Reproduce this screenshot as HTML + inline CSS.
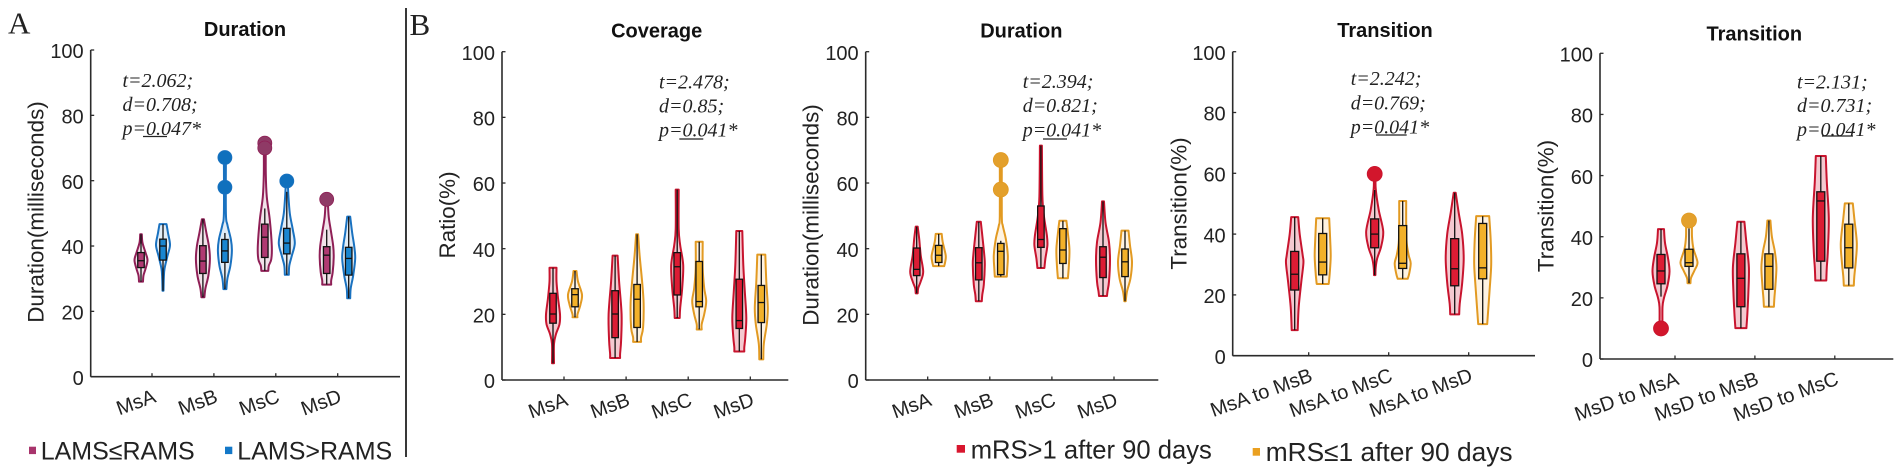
<!DOCTYPE html>
<html lang="en">
<head>
<meta charset="utf-8">
<title>Microstate violin plots</title>
<style>
html,body{margin:0;padding:0;background:#fff;width:1902px;height:474px;overflow:hidden}
svg{display:block;font-family:"Liberation Sans",sans-serif;fill:#1a1a1a;filter:blur(0.35px)}
.title{font-size:20px;font-weight:bold;text-anchor:middle;fill:#111}
.ytitle{font-size:22.4px;text-anchor:middle;fill:#222}
.stat{font-family:"Liberation Serif",serif;font-style:italic;font-size:20px;fill:#222}
.letter{font-family:"Liberation Serif",serif;font-size:31px;fill:#222}
.legend{font-size:25px;fill:#222}
</style>
</head>
<body>
<svg id="figure" xmlns="http://www.w3.org/2000/svg" width="1902" height="474" viewBox="0 0 1902 474">
  <rect x="0" y="0" width="1902" height="474" fill="#fff"/>
  <text class="letter" x="8" y="33.5">A</text>
  <text class="letter" x="409.5" y="35">B</text>
  <line x1="406" y1="8" x2="406" y2="457" stroke="#222" stroke-width="1.8"/>

  <text class="title" x="245" y="36">Duration</text>
  <text class="title" x="656.7" y="37.7">Coverage</text>
  <text class="title" x="1021.3" y="37.7">Duration</text>
  <text class="title" x="1385" y="37">Transition</text>
  <text class="title" x="1754.3" y="40.7">Transition</text>

  <text class="ytitle" transform="translate(43.3 212) rotate(-90)">Duration(milliseconds)</text>
  <text class="ytitle" transform="translate(455 215) rotate(-90)">Ratio(%)</text>
  <text class="ytitle" transform="translate(818.3 215) rotate(-90)">Duration(milliseconds)</text>
  <text class="ytitle" transform="translate(1186.7 203.5) rotate(-90)">Transition(%)</text>
  <text class="ytitle" transform="translate(1553.3 206) rotate(-90)">Transition(%)</text>

  <g>
    <text class="stat" x="122.5" y="87">t=2.062;</text>
    <text class="stat" x="122.5" y="111">d=0.708;</text>
    <text class="stat" x="122.5" y="135">p=0.047*</text>
    <line x1="143" x2="167" y1="136.5" y2="136.5" stroke="#222" stroke-width="1.2"/>
  </g>
  <g>
    <text class="stat" x="659" y="88.3">t=2.478;</text>
    <text class="stat" x="659" y="112.7">d=0.85;</text>
    <text class="stat" x="659" y="136.7">p=0.041*</text>
    <line x1="679.3" x2="703.3" y1="139" y2="139" stroke="#222" stroke-width="1.2"/>
  </g>
  <g>
    <text class="stat" x="1022.7" y="88">t=2.394;</text>
    <text class="stat" x="1022.7" y="112">d=0.821;</text>
    <text class="stat" x="1022.7" y="136.5">p=0.041*</text>
    <line x1="1043" x2="1067" y1="139" y2="139" stroke="#222" stroke-width="1.2"/>
  </g>
  <g>
    <text class="stat" x="1350.7" y="85">t=2.242;</text>
    <text class="stat" x="1350.7" y="109.3">d=0.769;</text>
    <text class="stat" x="1350.7" y="133.3">p=0.041*</text>
    <line x1="1376" x2="1406.7" y1="135" y2="135" stroke="#222" stroke-width="1.2"/>
  </g>
  <g>
    <text class="stat" x="1797" y="88.3">t=2.131;</text>
    <text class="stat" x="1797" y="112">d=0.731;</text>
    <text class="stat" x="1797" y="136">p=0.041*</text>
    <line x1="1822" x2="1853" y1="136" y2="136" stroke="#222" stroke-width="1.2"/>
  </g>

  <g>
    <rect x="29" y="446.7" width="7" height="7.4" fill="#a8346c"/>
    <text class="legend" x="40.7" y="459.3">LAMS≤RAMS</text>
  </g>
  <g>
    <rect x="225" y="446.7" width="7.3" height="7.4" fill="#1378c8"/>
    <text class="legend" x="237.3" y="459.3">LAMS&gt;RAMS</text>
  </g>
  <g>
    <rect x="956.7" y="445" width="8.3" height="7.7" fill="#d8162e"/>
    <text class="legend" style="font-size:25.6px" x="970.7" y="458.3">mRS&gt;1 after 90 days</text>
  </g>
  <g>
    <rect x="1252.7" y="448" width="7.3" height="7.7" fill="#eaa020"/>
    <text class="legend" style="font-size:26.3px" x="1265.7" y="461">mRS≤1 after 90 days</text>
  </g>
</svg>

<script>
// Shared axis content
const yTickValues = [0, 20, 40, 60, 80, 100];
const stateCategories = ['MsA', 'MsB', 'MsC', 'MsD'];
const msaTransitionCategories = ['MsA to MsB', 'MsA to MsC', 'MsA to MsD'];
const msdTransitionCategories = ['MsD to MsA', 'MsD to MsB', 'MsD to MsC'];

// Each violin: [value, density] pairs from top to bottom. Order: cat1-group1, cat1-group2, cat2-group1 ...
// Panel A: Duration, LAMS<=RAMS vs LAMS>RAMS
const aDensity = [
  [[43.6,.8],[41,1.5],[38,4.5],[35.7,6.5],[33,4.5],[31,2.5],[29.1,2]],
  [[46.7,3.5],[44,5],[40.3,7],[37,4.5],[33,1.5],[30,.8],[26.3,.5]],
  [[48.2,1],[44,3.5],[40,6],[36,7],[31,5.5],[27,2.5],[24.3,1.5]],
  [[67.1,1],[50,1],[46.5,2.5],[42,6],[38.6,7],[34,5.5],[30,2.5],[26.8,1.5]],
  [[71.5,1],[62,1],[55,2],[48,5],[40,7],[36,6.5],[34,4],[32.4,3.5]],
  [[59.9,1],[56,1.5],[50,3],[45,6],[40.8,8],[37,5],[34,2.5],[31.2,2]],
  [[54.3,1],[49,2],[45,4],[40,6.5],[36.5,7],[32,6],[29.5,4.5],[28.2,4.5]],
  [[49,1.5],[44,3.5],[40,5.5],[36.2,6.5],[31,4.5],[27,2],[24,1.5]]
];
const aQ1 = [33.4,35.7,31.6,35,36.5,37.6,31.6,31.1];
const aMedian = [35.5,40,35.4,38.5,42.7,40.9,37.2,36.2];
const aQ3 = [38,42.1,40.1,42,46.7,45.4,39.8,39.6];
const aWhiskerHigh = [43.6,46.7,48.2,44,51.5,56.6,45,49];
const aWhiskerLow = [29.1,26.3,24.3,26.8,32.4,31.2,28.2,24];
const aOutliers = [[],[],[],[67.1,58],[71.5,70],[59.9],[54.3],[]];

// Panel B: Coverage
const coverageDensity = [
  [[34.2,3.5],[30,3.5],[25,5],[20,7],[17,6.5],[14,3],[11,1],[5.1,1]],
  [[33.2,1.5],[30,3],[26,7],[23,5.5],[20,2.5],[19.1,2.5]],
  [[37.9,2.5],[30,4],[20,6.5],[12,6],[8,5],[6.7,5]],
  [[44.4,1],[38,2.5],[30,5],[23.4,6.5],[16,6],[13,4],[11.6,4]],
  [[58,1.5],[46,1.5],[41,3],[35,6],[28,5],[22,3],[18.9,2.5]],
  [[42.1,3.5],[34,3.5],[28,5],[24,7],[20,5],[17,2.5],[15.4,2.5]],
  [[45.4,3],[35,4],[27,5.5],[19,7],[13,6],[10,5],[8.7,5]],
  [[38.2,4],[30,5],[22,6.5],[17,5.5],[11,2.5],[6.3,2]]
];
const coverageQ1 = [17.3,22.3,12.9,16,25.9,22.3,15.7,17.5];
const coverageMedian = [20.1,26,20.1,24.6,34.5,23.9,18.1,23.6];
const coverageQ3 = [26.4,27.8,27.2,29.1,38.8,36.1,30.7,28.8];
const coverageWhiskerHigh = [34.2,33.2,37.9,44.4,58,42.1,45.4,38.2];
const coverageWhiskerLow = [5.1,19.1,6.7,11.6,18.9,15.4,8.7,6.3];
const coverageOutliers = [[],[],[],[],[],[],[],[]];

// Panel B: Duration
const durationDensity = [
  [[46.7,1],[43,2.5],[38,4],[33,6.5],[30,4],[28,1.5],[26.4,1]],
  [[44.5,3],[42,4],[38,7],[36,6.5],[34.7,5.5]],
  [[48.2,2],[44,3.5],[38,5.5],[35,6],[29,5],[26,3.5],[24,3]],
  [[67,1],[50,1],[47,2],[43,5],[38,7],[34,6.5],[31.5,6]],
  [[71.4,1],[56,1.5],[50,3],[44,6],[41,6.5],[37,4.5],[34.1,3.5]],
  [[48.5,3.5],[46,4.5],[40,6.5],[35,6],[31,5]],
  [[54.4,1],[48,2.5],[42,6],[36.5,7],[30,6],[27,4.5],[25.6,4]],
  [[45.5,3.5],[41,5],[36,7],[31,5.5],[27,2],[24,.7]]
];
const durationQ1 = [31.8,35.8,30.5,32.1,40.4,35.5,31.2,31.5];
const durationMedian = [33.7,38,35.7,39.2,42.8,39.6,37.4,36];
const durationQ3 = [40.2,41,40.3,41.6,53,46.1,40.6,39.9];
const durationWhiskerHigh = [46.7,44.5,48.2,42.4,71.4,48.5,54.4,45.5];
const durationWhiskerLow = [26.4,34.7,24,31.5,34.1,31,25.6,24];
const durationOutliers = [[],[],[],[67,58],[],[],[],[]];

// Panel B: Transition from MsA
const msaDensity = [
  [[45.6,3.5],[40,5],[33,8],[30.4,8.7],[24,6.5],[16,4],[8.4,3]],
  [[45.2,6.5],[38,7.5],[32.6,8],[27,7],[23.6,6]],
  [[59.8,1],[55,1],[48,4],[41,8.5],[36,6.5],[32,2.5],[29,1],[26.5,.7]],
  [[50.9,3.5],[42,3.5],[37,4],[33,6],[30.4,8],[27,6.5],[25.3,5]],
  [[53.6,1],[47,4],[40,7.5],[32,9],[24,7.5],[17,5],[13.6,4.5]],
  [[45.9,6.5],[38,8],[30,8.5],[22,7],[15,5.5],[10.4,4.5]]
];
const msaQ1 = [21.6,26.6,35.5,28.7,23,25.3];
const msaMedian = [26.8,30.8,40,30.4,28.6,28.9];
const msaQ3 = [34.3,40.2,45,42.8,38.5,43.5];
const msaWhiskerHigh = [45.6,45.2,54.5,50.9,53.6,45.9];
const msaWhiskerLow = [8.4,23.6,26.5,25.3,13.6,10.4];
const msaOutliers = [[],[],[59.8],[],[],[]];

// Panel B: Transition from MsD
const msdDensity = [
  [[42.5,3],[38,4],[33,7],[28.6,8.5],[24,6.5],[20,3],[17,1.5],[10,1.5]],
  [[45.3,3],[40,3],[36,4.5],[31.6,8.5],[29,5.5],[26.5,2],[24.8,1.5]],
  [[44.9,3.5],[38,5.5],[30,8],[22,7.5],[15,6.5],[10.1,5.5]],
  [[45.3,1.5],[40,3],[35,6],[30,7.5],[24,6.5],[20,5.5],[17.1,5]],
  [[66.4,5],[58,6],[46,8],[35,7],[30,6],[25.7,5.5]],
  [[50.9,4],[46,5.5],[38,8],[32,7],[27,5.5],[24,5]]
];
const msdQ1 = [24.6,30.3,17.1,22.8,32,29.8];
const msdMedian = [28.8,31.5,26.4,30.3,51.7,36.4];
const msdQ3 = [34.2,35.9,34.4,34.4,54.7,44.1];
const msdWhiskerHigh = [42.5,42.7,44.9,45.3,66.4,50.9];
const msdWhiskerLow = [20.4,24.8,10.1,17.1,25.7,24];
const msdOutliers = [[10],[45.3],[],[],[],[]];

const SVG_NS = 'http://www.w3.org/2000/svg';
const figure = document.getElementById('figure');

function make(parent, tag, attrs) {
  const node = document.createElementNS(SVG_NS, tag);
  for (const key in attrs) node.setAttribute(key, attrs[key]);
  parent.appendChild(node);
  return node;
}

function smoothSide(points) {
  // Catmull-Rom segments through points, continuing an open path.
  let d = '';
  for (let i = 0; i < points.length - 1; i++) {
    const p0 = points[Math.max(i - 1, 0)];
    const p1 = points[i];
    const p2 = points[i + 1];
    const p3 = points[Math.min(i + 2, points.length - 1)];
    const c1x = p1[0] + (p2[0] - p0[0]) / 6;
    const c1y = p1[1] + (p2[1] - p0[1]) / 6;
    const c2x = p2[0] - (p3[0] - p1[0]) / 6;
    const c2y = p2[1] - (p3[1] - p1[1]) / 6;
    d += ' C' + c1x.toFixed(2) + ' ' + c1y.toFixed(2) + ' ' + c2x.toFixed(2) + ' ' + c2y.toFixed(2) + ' ' + p2[0].toFixed(2) + ' ' + p2[1].toFixed(2);
  }
  return d;
}

function drawPanel(cfg) {
  const yScale = v => cfg.bottom - (v / 100) * (cfg.bottom - cfg.top);
  const xScale = i => cfg.firstTick + i * cfg.step;

  const panel = make(figure, 'g', {});
  
  

  const axisColor = '#2b2b2b';
  const yAxis = make(panel, 'line', {x1: cfg.left, x2: cfg.left, y1: cfg.top, y2: cfg.bottom, stroke: axisColor, 'stroke-width': 1.6});
  
  
  const xAxis = make(panel, 'line', {x1: cfg.left, x2: cfg.right, y1: cfg.bottom, y2: cfg.bottom, stroke: axisColor, 'stroke-width': 1.6});
  
  

  yTickValues.forEach(v => {
    const y = yScale(v);
    const tick = make(panel, 'line', {x1: cfg.left, x2: cfg.left + 3.5, y1: y, y2: y, stroke: axisColor, 'stroke-width': 1.3});
    
    
    const label = make(panel, 'text', {x: cfg.left - 7, y: y + 8.2, 'text-anchor': 'end', 'font-size': 20, fill: '#222'});
    label.textContent = String(v);
    
    
  });

  cfg.categories.forEach((name, i) => {
    const x = xScale(i);
    const tick = make(panel, 'line', {x1: x, x2: x, y1: cfg.bottom, y2: cfg.bottom - 3.5, stroke: axisColor, 'stroke-width': 1.3});
    
    
    const ax = x + 5;
    const ay = cfg.bottom + 25;
    const label = make(panel, 'text', {x: ax, y: ay, 'text-anchor': 'end', 'font-size': 20, fill: '#222', transform: 'rotate(-20 ' + ax + ' ' + ay + ')'});
    label.textContent = name;
    
    
  });

  cfg.density.forEach((profile, k) => {
    const category = Math.floor(k / 2);
    const group = k % 2;
    const style = cfg.styles[group];
    const cx = xScale(category) + (group === 0 ? -cfg.offset : cfg.offset);
    const tag = cfg.id + '-' + cfg.categories[category].replace(/ /g, '-') + '-' + group;

    const left = profile.map(p => [cx - p[1], yScale(p[0])]);
    const right = profile.map(p => [cx + p[1], yScale(p[0])]).reverse();
    const d = 'M' + left[0][0].toFixed(2) + ' ' + left[0][1].toFixed(2) + smoothSide(left) +
      ' L' + right[0][0].toFixed(2) + ' ' + right[0][1].toFixed(2) + smoothSide(right) + ' Z';
    const violin = make(panel, 'path', {d: d, fill: style.fill, stroke: style.line, 'stroke-width': 2, 'stroke-linejoin': 'round'});
    
    

    const whisker = make(panel, 'line', {x1: cx, x2: cx, y1: yScale(cfg.whiskerHigh[k]), y2: yScale(cfg.whiskerLow[k]), stroke: '#111', 'stroke-width': 1.3});
    
    

    const box = make(panel, 'rect', {x: cx - cfg.boxWidth / 2, y: yScale(cfg.q3[k]), width: cfg.boxWidth, height: yScale(cfg.q1[k]) - yScale(cfg.q3[k]), fill: style.box, stroke: '#111', 'stroke-width': 1.3});
    
    

    const median = make(panel, 'line', {x1: cx - cfg.boxWidth / 2, x2: cx + cfg.boxWidth / 2, y1: yScale(cfg.median[k]), y2: yScale(cfg.median[k]), stroke: '#111', 'stroke-width': 1.3});
    
    

    cfg.outliers[k].forEach((v, n) => {
      const dot = make(panel, 'circle', {cx: cx, cy: yScale(v), r: cfg.outlierRadius, fill: style.dot, stroke: style.line, 'stroke-width': 0.8});
      
      
    });
  });
}

const lamsStyles = [
  {line: '#8f1f56', fill: 'rgba(143,31,86,.13)', box: '#b03a72', dot: '#8f3a66'},
  {line: '#1a72c0', fill: 'rgba(26,114,192,.13)', box: '#1a86d0', dot: '#0f70bd'}
];
const mrsStyles = [
  {line: '#c8142e', fill: 'rgba(210,30,60,.24)', box: '#dc1c34', dot: '#d2162c'},
  {line: '#e29a22', fill: 'rgba(245,175,60,.15)', box: '#f2b12a', dot: '#e3a02c'}
];

drawPanel({id: 'a-duration', categories: stateCategories, density: aDensity, q1: aQ1, median: aMedian, q3: aQ3, whiskerHigh: aWhiskerHigh, whiskerLow: aWhiskerLow, outliers: aOutliers, styles: lamsStyles, left: 90.7, right: 400, firstTick: 152, step: 61.9, top: 50, bottom: 376.7, offset: 11, boxWidth: 6.5, outlierRadius: 7});
drawPanel({id: 'b-coverage', categories: stateCategories, density: coverageDensity, q1: coverageQ1, median: coverageMedian, q3: coverageQ3, whiskerHigh: coverageWhiskerHigh, whiskerLow: coverageWhiskerLow, outliers: coverageOutliers, styles: mrsStyles, left: 502, right: 788.3, firstTick: 564, step: 62.1, top: 51.7, bottom: 380, offset: 11, boxWidth: 6.5, outlierRadius: 7.5});
drawPanel({id: 'b-duration', categories: stateCategories, density: durationDensity, q1: durationQ1, median: durationMedian, q3: durationQ3, whiskerHigh: durationWhiskerHigh, whiskerLow: durationWhiskerLow, outliers: durationOutliers, styles: mrsStyles, left: 865.7, right: 1158.3, firstTick: 927.7, step: 62.1, top: 51.7, bottom: 380, offset: 11, boxWidth: 6.5, outlierRadius: 7.5});
drawPanel({id: 'b-transition-msa', categories: msaTransitionCategories, density: msaDensity, q1: msaQ1, median: msaMedian, q3: msaQ3, whiskerHigh: msaWhiskerHigh, whiskerLow: msaWhiskerLow, outliers: msaOutliers, styles: mrsStyles, left: 1232.7, right: 1535, firstTick: 1308.7, step: 80, top: 51.7, bottom: 355.7, offset: 14, boxWidth: 8, outlierRadius: 7.5});
drawPanel({id: 'b-transition-msd', categories: msdTransitionCategories, density: msdDensity, q1: msdQ1, median: msdMedian, q3: msdQ3, whiskerHigh: msdWhiskerHigh, whiskerLow: msdWhiskerLow, outliers: msdOutliers, styles: mrsStyles, left: 1600, right: 1893.3, firstTick: 1675, step: 79.9, top: 53.3, bottom: 359, offset: 14, boxWidth: 8, outlierRadius: 7.5});
</script>
</body>
</html>
